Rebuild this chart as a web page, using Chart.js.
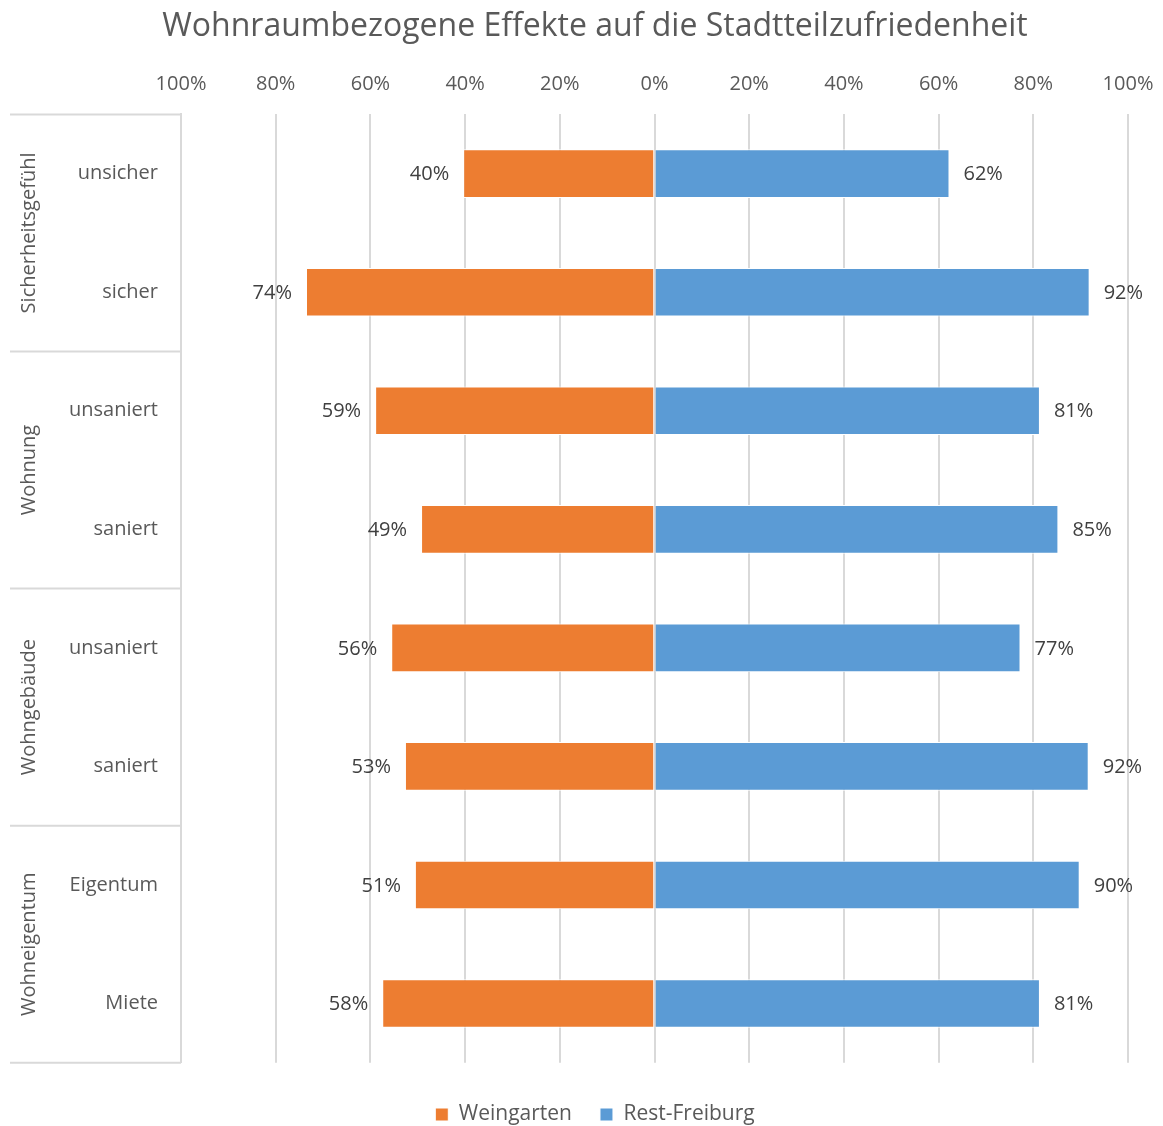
<!DOCTYPE html>
<html>
<head>
<meta charset="utf-8">
<script src="https://cdn.jsdelivr.net/npm/chart.js@4.4.0/dist/chart.umd.min.js"></script>
<style>
  html, body { margin: 0; padding: 0; background: #fff; }
  #wrap { width: 1163px; height: 1126px; }
</style>
</head>
<body>
<div id="wrap"><canvas id="graphic"></canvas></div>
<script>
var kategorien = ['unsicher', 'sicher', 'unsaniert', 'saniert', 'unsaniert', 'saniert', 'Eigentum', 'Miete'];
var gruppen = ['Sicherheitsgefühl', 'Wohnung', 'Wohngebäude', 'Wohneigentum'];
var weingarten = [40.4, 73.6, 59.0, 49.3, 55.6, 52.7, 50.6, 57.5];
var restFreiburg = [62.3, 91.9, 81.4, 85.3, 77.3, 91.7, 89.8, 81.4];
var xTicks = [-100, -80, -60, -40, -20, 0, 20, 40, 60, 80, 100];

var schrift = '"Open Sans", "Noto Sans", sans-serif';
var grau = '#595959';
var linie = '#d9d9d9';

// Werte an die Balkenenden schreiben, Gruppenlabels und Trennlinien links
var extras = {
    id: 'extras',
    afterDatasetsDraw: function (chart) {
        var c = chart.ctx;
        c.save();
        c.font = '20px ' + schrift;
        c.fillStyle = '#404040';
        c.textBaseline = 'middle';
        chart.data.datasets.forEach(function (ds, di) {
            chart.getDatasetMeta(di).data.forEach(function (bar, i) {
                var v = ds.data[i];
                if (v < 0) {
                    c.textAlign = 'right';
                    c.fillText(Math.round(-v) + '%', bar.x - 14, bar.y + 1);
                } else {
                    c.textAlign = 'left';
                    c.fillText(Math.round(v) + '%', bar.x + 14, bar.y + 1);
                }
            });
        });
        c.restore();
    },
    afterDraw: function (chart) {
        var c = chart.ctx;
        var y = chart.scales.y;
        var left = chart.chartArea.left;
        var halb = (y.getPixelForValue(1) - y.getPixelForValue(0)) / 2;
        c.save();
        c.strokeStyle = linie;
        c.lineWidth = 2;
        for (var g = 0; g <= gruppen.length; g++) {
            var py = g < gruppen.length ? y.getPixelForValue(g * 2) - halb : y.getPixelForValue(kategorien.length - 1) + halb;
            c.beginPath();
            c.moveTo(10, py);
            c.lineTo(left, py);
            c.stroke();
        }
        c.font = '20px ' + schrift;
        c.fillStyle = grau;
        c.textAlign = 'center';
        c.textBaseline = 'middle';
        gruppen.forEach(function (name, g) {
            var mitte = (y.getPixelForValue(g * 2) + y.getPixelForValue(g * 2 + 1)) / 2;
            c.save();
            c.translate(29, mitte);
            c.rotate(-Math.PI / 2);
            c.fillText(name, 0, 0);
            c.restore();
        });
        c.restore();
    }
};

var chartGraph = new Chart(document.getElementById('graphic'), {
    type: 'bar',
    data: {
        labels: kategorien,
        datasets: [{
            label: 'Weingarten',
            data: weingarten.map(function (v) { return -v; }),
            backgroundColor: '#ED7D31',
            borderColor: '#ffffff',
            borderWidth: 1
        }, {
            label: 'Rest-Freiburg',
            data: restFreiburg,
            backgroundColor: '#5B9BD5',
            borderColor: '#ffffff',
            borderWidth: 1
        }]
    },
    plugins: [extras],
    options: {
        indexAxis: 'y',
        responsive: true,
        maintainAspectRatio: false,
        animation: false,
        layout: { padding: { left: 62, right: 35, top: 0, bottom: -9 } },
        datasets: { bar: { categoryPercentage: 1, barPercentage: 0.41 } },
        scales: {
            x: {
                position: 'top',
                stacked: true,
                min: -100,
                max: 100,
                afterBuildTicks: function (scale) {
                    scale.ticks = xTicks.map(function (v) { return { value: v }; });
                },
                afterFit: function (scale) {
                    scale.paddingLeft = 0;
                    scale.paddingRight = 0;
                },
                ticks: {
                    padding: 18,
                    color: grau,
                    font: { size: 20, family: schrift },
                    callback: function (v) { return Math.abs(v) + '%'; }
                },
                grid: { color: linie, lineWidth: 2, drawTicks: false },
                border: { display: false }
            },
            y: {
                stacked: true,
                afterFit: function (scale) { scale.width = 119; },
                ticks: {
                    padding: 23,
                    color: grau,
                    font: { size: 20, family: schrift }
                },
                grid: { display: false, drawTicks: false },
                border: { display: true, color: linie, width: 2 }
            }
        },
        plugins: {
            title: {
                display: true,
                text: 'Wohnraumbezogene Effekte auf die Stadtteilzufriedenheit',
                color: grau,
                font: { size: 32, family: schrift, weight: 'normal' },
                padding: { top: 8, bottom: 8 }
            },
            legend: {
                position: 'bottom',
                title: {
                    display: true,
                    text: ' ',
                    font: { size: 1 },
                    padding: { top: 0, bottom: 12 }
                },
                labels: {
                    color: grau,
                    font: { size: 21, family: schrift },
                    boxWidth: 13,
                    boxHeight: 13,
                    padding: 28
                }
            },
            tooltip: { enabled: false }
        }
    }
});
</script>
</body>
</html>
